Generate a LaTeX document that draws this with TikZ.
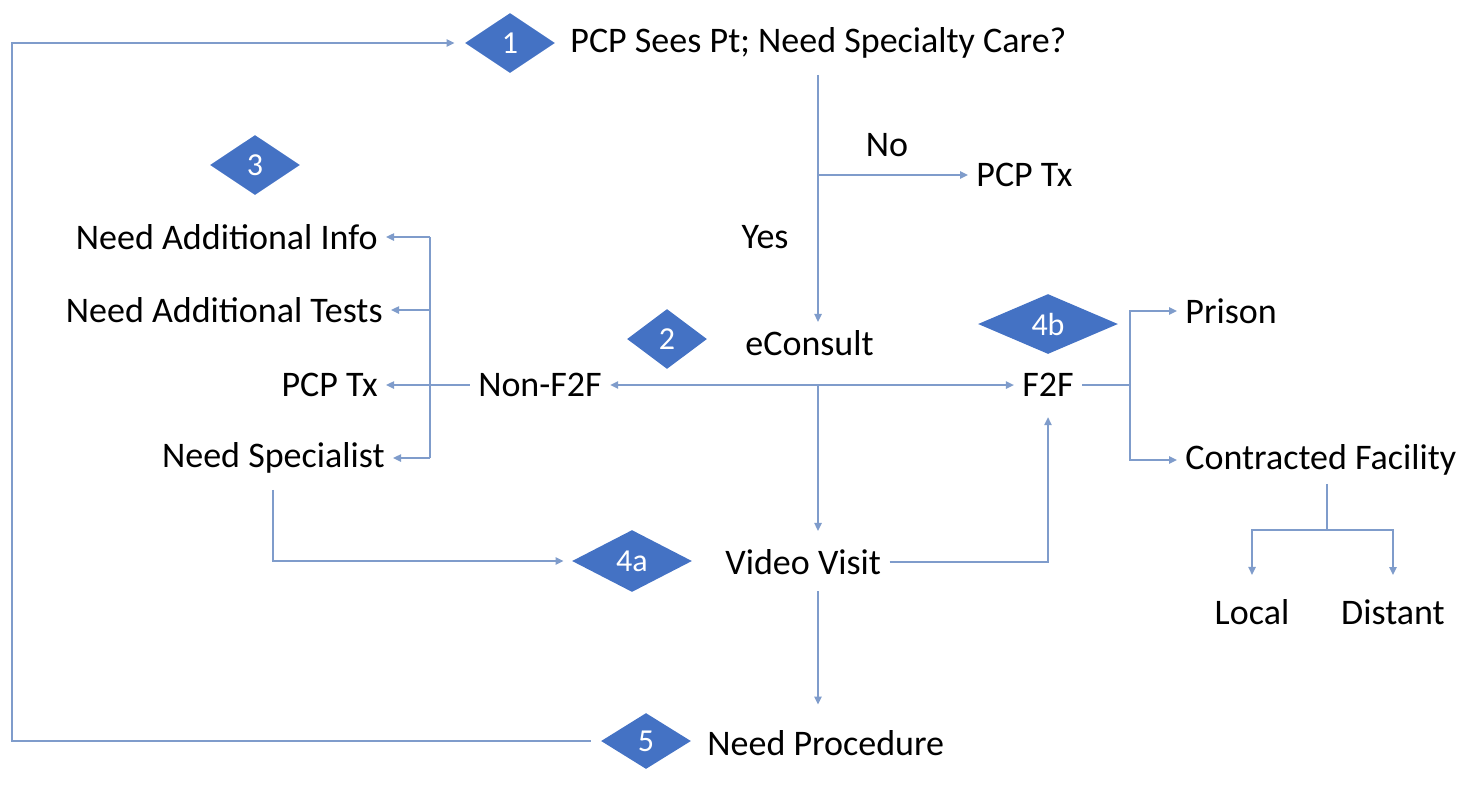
\documentclass[tikz,border=0pt]{standalone}
\usepackage{fontspec}
\setmainfont{Carlito}
\usetikzlibrary{positioning,arrows.meta,shapes.geometric}
\definecolor{stepBlue}{HTML}{4472C4}
\definecolor{linkBlue}{HTML}{7F9CCB}

\begin{document}
\begin{tikzpicture}[x=0.5pt, y=-0.5pt,
    every node/.style={font=\fontsize{18}{21}\selectfont, inner sep=4pt},
    badge/.style={diamond, fill=stepBlue, text=white, inner sep=0pt,
                  minimum width=45pt, minimum height=30pt,
                  font=\fontsize{16}{18}\selectfont},
    lbl/.style={anchor=west},
    rlbl/.style={anchor=east},
    ln/.style={draw=linkBlue, line width=0.9pt},
    arr/.style={ln, -{Triangle[length=4pt, width=3.6pt]}}]
  \useasboundingbox (0,0) rectangle (1470,789);
  % step badges
  \node[badge] (d1) at (510, 43) {1};
  \node[badge, minimum width=40pt] (d2) at (667, 339) {2};
  \node[badge] (d3) at (255, 165) {3};
  \node[badge, minimum width=60pt, minimum height=31pt] (d4a) at (632, 561) {4a};
  \node[badge, minimum width=70pt] (d4b) at (1048, 324) {4b};
  \node[badge, minimum height=28pt] (d5) at (646, 741) {5};
  % texts
  \node[lbl] (q1) at (562, 43) {PCP Sees Pt; Need Specialty Care?};
  \node (no) at (887, 145) {No};
  \node (yes) at (765, 237) {Yes};
  \node[lbl] (pcptx1) at (968, 175) {PCP Tx};
  \node[lbl] (econ) at (737, 343) {eConsult};
  \node[rlbl] (addinfo) at (386, 237) {Need Additional Info};
  \node[rlbl] (addtest) at (391, 310) {Need Additional Tests};
  \node[rlbl] (pcptx2) at (386, 385) {PCP Tx};
  \node[rlbl] (spec) at (393, 458) {Need Specialist};
  \node (nonf) at (540, 385) {Non-F2F};
  \node (f2f) at (1048, 385) {F2F};
  \node[lbl] (prison) at (1177, 311) {Prison};
  \node[lbl] (contract) at (1177, 460) {Contracted Facility};
  \node (local) at (1252, 612) {Local};
  \node (distant) at (1393, 612) {Distant};
  \node[lbl] (video) at (717, 562) {Video Visit};
  \node[lbl] (proc) at (699, 743) {Need Procedure};
  % junctions
  \coordinate (split1) at (818, 175);
  \coordinate (split2) at (818, 385);
  \coordinate (brk) at (430, 385);
  \coordinate (split3) at (1130, 385);
  \coordinate (split4) at (1327, 530);
  \coordinate (loop) at (12, 741);
  % connectors
  \draw[arr, shorten <=4pt] (split1 |- q1.south) -- (split1 |- econ.north);
  \draw[arr] (split1) -- (pcptx1.west);
  \draw[arr] (split2) -- (nonf.east);
  \draw[arr] (split2) -- (f2f.west);
  \draw[arr, shorten >=5pt] (split2) -- (split2 |- video.north);
  \draw[arr] (nonf.west) -- (pcptx2.east);
  \draw[ln] (brk |- addinfo) -- (brk |- spec);
  \draw[arr] (brk |- addinfo) -- (addinfo.east);
  \draw[arr] (brk |- addtest) -- (addtest.east);
  \draw[arr] (brk |- spec) -- (spec.east);
  \draw[arr, shorten <=4pt, shorten >=4pt] (spec.south) |- (d4a.west);
  \draw[arr, shorten >=6pt] (video.east) -| (f2f.south);
  \draw[ln] (f2f.east) -- (split3);
  \draw[arr] (split3) |- (prison.west);
  \draw[arr] (split3) |- (contract.west);
  \draw[ln] (split4 |- contract.south) -- (split4);
  \draw[arr, shorten >=8pt] (split4) -| (local.north);
  \draw[arr, shorten >=8pt] (split4) -| (distant.north);
  \draw[arr, shorten <=4pt, shorten >=4pt] (split2 |- video.south) -- (split2 |- d5.north);
  \draw[arr, shorten <=5pt, shorten >=5pt] (d5.west) -- (loop) |- (d1.west);
\end{tikzpicture}
\end{document}
